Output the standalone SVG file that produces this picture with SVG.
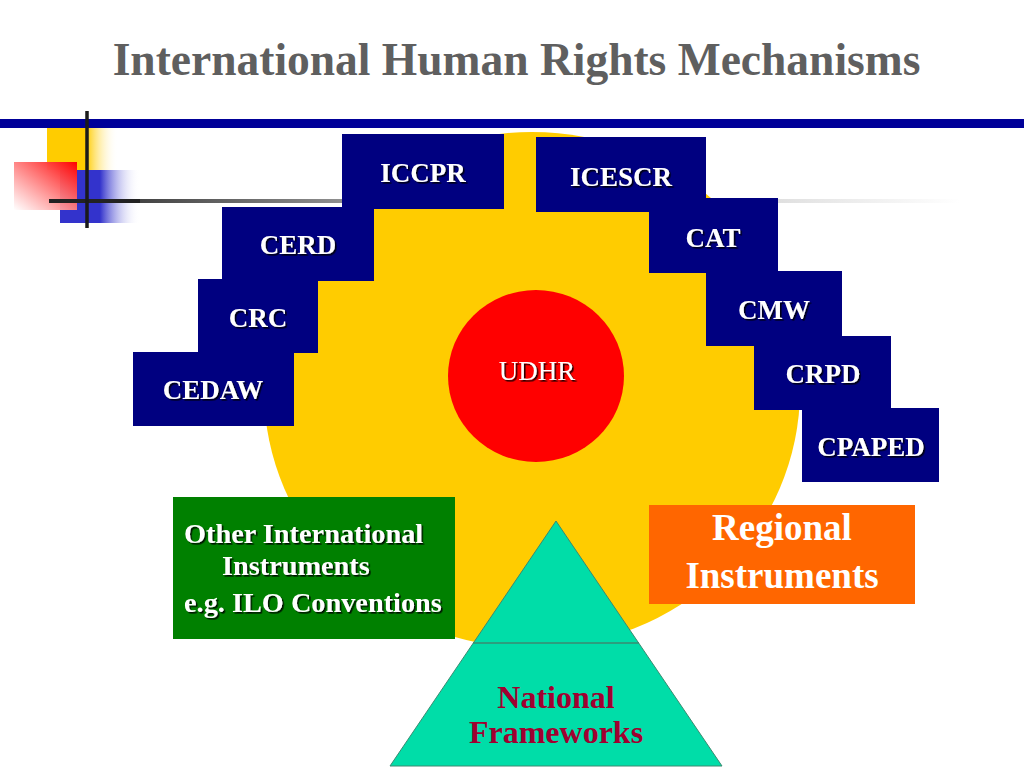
<svg xmlns="http://www.w3.org/2000/svg" width="1024" height="768" viewBox="0 0 1024 768">
  <defs>
    <linearGradient id="gYel" x1="0" y1="0" x2="1" y2="0">
      <stop offset="0" stop-color="#FFCC00"/>
      <stop offset="0.55" stop-color="#FFCC00"/>
      <stop offset="1" stop-color="#FFFFFF" stop-opacity="0"/>
    </linearGradient>
    <linearGradient id="gRed" x1="1" y1="0" x2="0" y2="1">
      <stop offset="0" stop-color="#FF0000"/>
      <stop offset="1" stop-color="#FFFFFF" stop-opacity="0.9"/>
    </linearGradient>
    <linearGradient id="gBlue" x1="0" y1="0" x2="1" y2="0">
      <stop offset="0" stop-color="#3333CC"/>
      <stop offset="0.5" stop-color="#3333CC"/>
      <stop offset="1" stop-color="#FFFFFF" stop-opacity="0"/>
    </linearGradient>
    <linearGradient id="gLine" gradientUnits="userSpaceOnUse" x1="49" y1="0" x2="960" y2="0">
      <stop offset="0" stop-color="#222222"/>
      <stop offset="0.35" stop-color="#999999"/>
      <stop offset="1" stop-color="#FFFFFF"/>
    </linearGradient>
    <filter id="sh" x="-10%" y="-20%" width="130%" height="150%">
      <feDropShadow dx="1.6" dy="1.6" stdDeviation="0.6" flood-color="#000000" flood-opacity="0.85"/>
    </filter>
    <style>
      .title { font-family: "Liberation Serif", "Times New Roman", serif; font-weight: bold; font-size: 45.5px; fill: #5F5F5F; }
      .box { fill: #000080; }
      .lbl { font-family: "Liberation Serif", "Times New Roman", serif; font-weight: bold; font-size: 27px; fill: #FFFFFF; text-anchor: middle; filter: url(#sh); }
      .grn { font-family: "Liberation Serif", "Times New Roman", serif; font-weight: bold; font-size: 28.3px; fill: #FFFFFF; filter: url(#sh); }
      .org { font-family: "Liberation Serif", "Times New Roman", serif; font-weight: bold; font-size: 37px; fill: #FFFFFF; text-anchor: middle; }
      .nat { font-family: "Liberation Serif", "Times New Roman", serif; font-weight: bold; font-size: 32px; fill: #A00030; text-anchor: middle; }
      .udhr { font-family: "Liberation Serif", "Times New Roman", serif; font-size: 27px; fill: #FFFFFF; text-anchor: middle; filter: url(#sh); }
    </style>
  </defs>

  <rect x="0" y="0" width="1024" height="768" fill="#FFFFFF"/>

  <!-- title and decoration -->
  <text class="title" x="516.5" y="75" text-anchor="middle">International Human Rights Mechanisms</text>
  <line x1="49" y1="201" x2="960" y2="201" stroke="url(#gLine)" stroke-width="4"/>
  <rect x="0" y="119" width="1024" height="9" fill="#000099"/>
  <rect x="47" y="128" width="71" height="42" fill="url(#gYel)"/>
  <rect x="60" y="170" width="80" height="53" fill="url(#gBlue)"/>
  <rect x="14" y="162" width="63" height="48" fill="url(#gRed)"/>
  <line x1="49" y1="201" x2="140" y2="201" stroke="#222222" stroke-width="4"/>
  <line x1="87" y1="111" x2="87" y2="228" stroke="#1A1A1A" stroke-width="3.5"/>

  <!-- central yellow disc -->
  <g id="core">
    <ellipse cx="532" cy="390" rx="268" ry="258" fill="#FFCC00"/>
  </g>

  <!-- treaty boxes -->
  <g id="n-iccpr"><rect class="box" x="342" y="134" width="162" height="75"/><text class="lbl" x="423" y="182">ICCPR</text></g>
  <g id="n-cerd"><rect class="box" x="222" y="207" width="152" height="74"/><text class="lbl" x="298" y="254">CERD</text></g>
  <g id="n-crc"><rect class="box" x="198" y="279" width="120" height="74"/><text class="lbl" x="258" y="327">CRC</text></g>
  <g id="n-cedaw"><rect class="box" x="133" y="352" width="161" height="74"/><text class="lbl" x="213" y="399">CEDAW</text></g>
  <g id="n-icescr"><rect class="box" x="536" y="137" width="170" height="75"/><text class="lbl" x="621" y="186">ICESCR</text></g>
  <g id="n-cat"><rect class="box" x="649" y="198" width="129" height="75"/><text class="lbl" x="713" y="247">CAT</text></g>
  <g id="n-cmw"><rect class="box" x="706" y="271" width="136" height="75"/><text class="lbl" x="774" y="319">CMW</text></g>
  <g id="n-crpd"><rect class="box" x="754" y="336" width="137" height="74"/><text class="lbl" x="823" y="383">CRPD</text></g>
  <g id="n-cpaped"><rect class="box" x="802" y="408" width="137" height="74"/><text class="lbl" x="871" y="456">CPAPED</text></g>

  <!-- UDHR -->
  <g id="n-udhr">
    <ellipse cx="536" cy="376" rx="88" ry="86" fill="#FF0000"/>
    <text class="udhr" x="537" y="380">UDHR</text>
  </g>

  <!-- other international instruments -->
  <g id="n-other">
    <rect x="173" y="497" width="282" height="142" fill="#008000"/>
    <text class="grn" x="184" y="543">Other International</text>
    <text class="grn" x="222" y="575">Instruments</text>
    <text class="grn" x="184" y="612">e.g. ILO Conventions</text>
  </g>

  <!-- regional instruments -->
  <g id="n-regional">
    <rect x="649" y="505" width="266" height="99" fill="#FF6600"/>
    <text class="org" x="782" y="540">Regional</text>
    <text class="org" x="782" y="588">Instruments</text>
  </g>

  <!-- national frameworks pyramid -->
  <g id="n-national">
    <polygon points="556,521 390,766 722,766" fill="#00DDA8" stroke="#3A8A70" stroke-width="1"/>
    <line x1="473" y1="643" x2="639" y2="643" stroke="#3A8A70" stroke-width="1.5"/>
    <text class="nat" x="556" y="708">National</text>
    <text class="nat" x="556" y="743">Frameworks</text>
  </g>

  <g id="connectors"></g>
</svg>
